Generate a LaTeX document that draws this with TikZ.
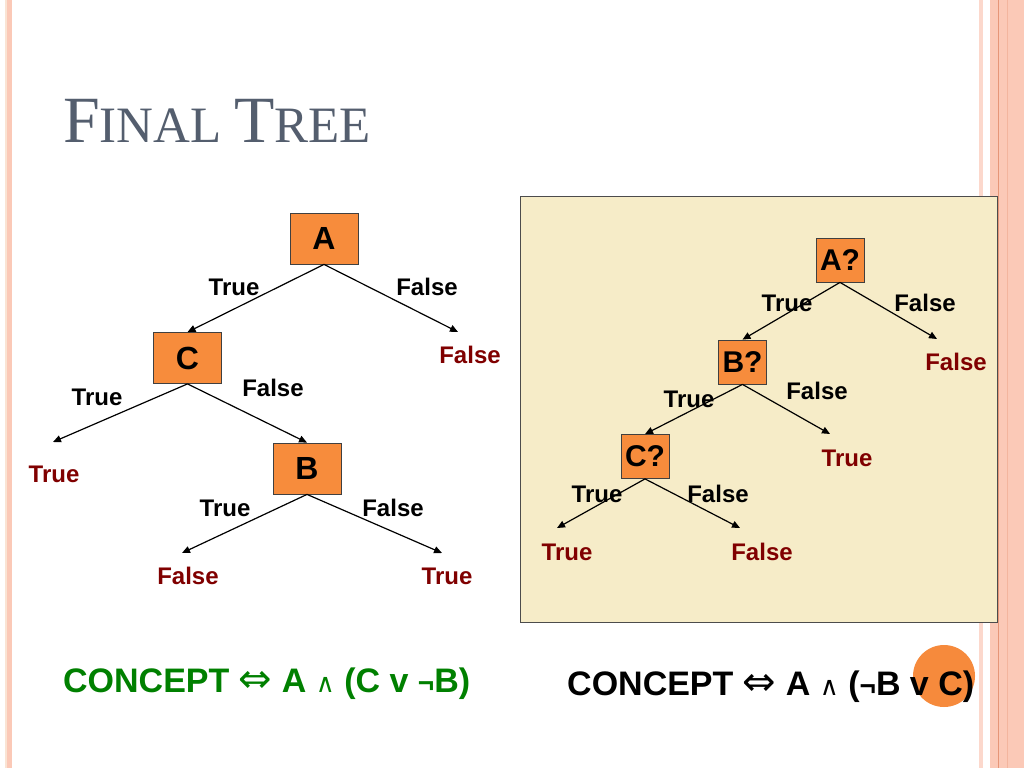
\documentclass[tikz,border=0pt]{standalone}
\usepackage{fontspec}
\setmainfont{Liberation Sans}
\newfontfamily\titlefont{Liberation Serif}
\newfontfamily\symfont{DejaVu Sans}
\usetikzlibrary{arrows.meta}
\definecolor{boxorange}{RGB}{247,140,60}
\definecolor{leafred}{RGB}{128,0,0}
\definecolor{panelbeige}{RGB}{246,236,200}
\definecolor{stripepink}{RGB}{251,201,183}
\definecolor{stripelight}{RGB}{252,216,204}
\definecolor{stripecream}{RGB}{250,228,212}
\definecolor{stripeline}{RGB}{230,150,120}
\definecolor{titlegray}{RGB}{84,94,110}
\definecolor{conceptgreen}{RGB}{0,128,0}
\definecolor{dotorange}{RGB}{246,138,60}

\begin{document}
\begin{tikzpicture}
    [x=1pt, y=-1pt,
    decision/.style={draw=black!75, line width=0.8pt, fill=boxorange, inner sep=0pt},
    bigbox/.style={decision, minimum width=68pt, minimum height=51pt,
        font=\bfseries\fontsize{32}{32}\selectfont},
    smallbox/.style={decision, minimum width=48pt, minimum height=44pt,
        font=\bfseries\fontsize{30}{30}\selectfont},
    branch/.style={inner sep=0pt, font=\bfseries\fontsize{24}{24}\selectfont},
    leaf/.style={branch, text=leafred},
    edge/.style={line width=1.2pt, -{Triangle[length=8pt,width=7pt]}},
    formula/.style={inner sep=0pt, anchor=base west,
        font=\bfseries\fontsize{34}{34}\selectfont}
    ]
    \useasboundingbox (0,0) rectangle (1024,768);
    \fill[white] (0,0) rectangle (1024,768);
    \fill[stripecream] (5,0) rectangle (7,768);
    \fill[stripepink] (7,0) rectangle (12,768);
    \fill[stripelight] (979,0) rectangle (983,768);
    \fill[stripepink] (990,0) rectangle (1024,768);
    \draw[stripeline, line width=0.8pt] (998.5,0) -- (998.5,768);
    \draw[stripeline!40!stripepink, line width=0.8pt] (1007,0) -- (1007,768);

    \node[anchor=base west, inner sep=0pt, text=titlegray] (title) at (63,142)
        {\titlefont\fontsize{66}{66}\selectfont F\fontsize{51}{51}\selectfont INAL
        \fontsize{66}{66}\selectfont T\fontsize{51}{51}\selectfont REE};

    \node[bigbox] (A) at (324,238.5) {A};
    \node[bigbox] (C) at (187.5,358) {C};
    \node[bigbox] (B) at (307,468.5) {B};
    \coordinate (tipAF) at (458,332);
    \coordinate (tipCT) at (53,442);
    \coordinate (tipBT) at (182,553);
    \coordinate (tipBF) at (442,553);
    \draw[edge] (A.south) -- (C.north);
    \draw[edge] (A.south) -- (tipAF);
    \draw[edge] (C.south) -- (tipCT);
    \draw[edge] (C.south) -- (B.north);
    \draw[edge] (B.south) -- (tipBT);
    \draw[edge] (B.south) -- (tipBF);
    \node[branch] (AT) at (234,287) {True};
    \node[branch] (AF) at (427,287) {False};
    \node[branch] (CT) at (97,397) {True};
    \node[branch] (CF) at (273,388) {False};
    \node[branch] (BT) at (225,508) {True};
    \node[branch] (BF) at (393,508) {False};
    \node[leaf] (leafAF) at (470,355) {False};
    \node[leaf] (leafCT) at (54,474) {True};
    \node[leaf] (leafBT) at (188,576) {False};
    \node[leaf] (leafBF) at (447,576) {True};

    \draw[fill=panelbeige, draw=black!70, line width=1pt] (520,196) rectangle (997,622);
    \node[smallbox] (qA) at (840,260) {A?};
    \node[smallbox] (qB) at (742.5,362) {B?};
    \node[smallbox] (qC) at (645,456.5) {C?};
    \coordinate (tipqAF) at (937,339);
    \coordinate (tipqBF) at (830,434);
    \coordinate (tipqCT) at (557,528);
    \coordinate (tipqCF) at (740,528);
    \draw[edge] (qA.south) -- (qB.north);
    \draw[edge] (qA.south) -- (tipqAF);
    \draw[edge] (qB.south) -- (qC.north);
    \draw[edge] (qB.south) -- (tipqBF);
    \draw[edge] (qC.south) -- (tipqCT);
    \draw[edge] (qC.south) -- (tipqCF);
    \node[branch] (qAT) at (787,303) {True};
    \node[branch] (qAFl) at (925,303) {False};
    \node[branch] (qBT) at (689,399) {True};
    \node[branch] (qBFl) at (817,391) {False};
    \node[branch] (qCT) at (597,494) {True};
    \node[branch] (qCFl) at (718,494) {False};
    \node[leaf] (leafqAF) at (956,362) {False};
    \node[leaf] (leafqBF) at (847,458) {True};
    \node[leaf] (leafqCT) at (567,552) {True};
    \node[leaf] (leafqCF) at (762,552) {False};

    \fill[dotorange] (944,676) circle (31pt);
    \node[formula, text=conceptgreen] (conceptL) at (63,692)
        {CONCEPT {\symfont\mdseries\fontsize{40}{40}\selectfont ⇔} A {\symfont\mdseries\fontsize{26}{26}\selectfont ∧} (C v {\fontsize{28}{28}\selectfont ¬}B)};
    \node[formula] (conceptR) at (567,695)
        {CONCEPT {\symfont\mdseries\fontsize{40}{40}\selectfont ⇔} A {\symfont\mdseries\fontsize{26}{26}\selectfont ∧} ({\fontsize{28}{28}\selectfont ¬}B v C)};
\end{tikzpicture}
\end{document}
